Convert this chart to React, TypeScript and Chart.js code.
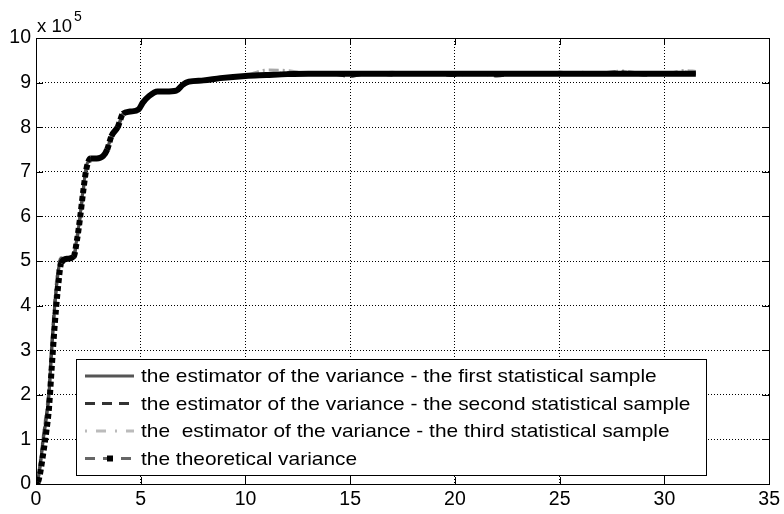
import React, { useEffect, useRef } from 'react';
import { Chart, registerables } from 'chart.js';

Chart.register(...registerables);

// time axis knots (x values)
const timeKnots = [
  0, 0.1, 0.2, 0.35, 0.5, 0.62, 0.75, 0.9, 1.05, 1.2,
  1.5, 1.8, 1.95, 2.1, 2.25, 2.4, 2.6, 2.9, 3.2, 3.4,
  3.6, 3.9, 4.15, 4.5, 4.9, 5.1, 5.4, 5.8, 6.2, 6.7,
  7.0, 7.3, 8.0, 8.8, 10,
  11, 12, 13, 14, 15, 16, 17, 18, 19, 20, 21, 22, 23, 24, 25, 26, 27, 28, 29, 30, 31, 31.5,
];

// values in units of 10^5
const sampleFirst = [
  0, 0.1, 0.4, 1.0, 1.5, 2.0, 3.0, 4.0, 4.7, 5.05,
  5.05, 5.1, 5.5, 6.0, 6.6, 7.1, 7.3, 7.3, 7.35, 7.5,
  7.8, 8.0, 8.3, 8.35, 8.4, 8.55, 8.7, 8.8, 8.8, 8.82,
  8.95, 9.02, 9.05, 9.1, 9.15,
  9.17, 9.2, 9.2, 9.19, 9.2, 9.2, 9.21, 9.2, 9.2, 9.19, 9.2, 9.2, 9.21, 9.2, 9.2, 9.2, 9.2, 9.21, 9.2, 9.2, 9.2, 9.2,
];
const sampleSecond = [
  0, 0.12, 0.45, 1.05, 1.55, 2.05, 3.05, 4.05, 4.75, 5.05,
  5.03, 5.1, 5.45, 5.95, 6.55, 7.05, 7.28, 7.32, 7.35, 7.5,
  7.75, 7.98, 8.28, 8.36, 8.4, 8.55, 8.7, 8.78, 8.82, 8.83,
  8.95, 9.02, 9.06, 9.1, 9.15,
  9.16, 9.22, 9.18, 9.2, 9.14, 9.22, 9.17, 9.21, 9.2, 9.16, 9.22, 9.15, 9.2, 9.18, 9.23, 9.19, 9.22, 9.24, 9.17, 9.2, 9.23, 9.2,
];
const sampleThird = [
  0, 0.15, 0.5, 1.1, 1.65, 2.15, 3.15, 4.15, 4.85, 5.08,
  5.06, 5.12, 5.55, 6.05, 6.65, 7.12, 7.3, 7.31, 7.37, 7.52,
  7.82, 8.02, 8.3, 8.36, 8.42, 8.56, 8.72, 8.8, 8.81, 8.83,
  8.96, 9.03, 9.05, 9.11, 9.16,
  9.28, 9.27, 9.2, 9.22, 9.2, 9.18, 9.23, 9.2, 9.21, 9.2, 9.22, 9.19, 9.2, 9.22, 9.21, 9.23, 9.22, 9.26, 9.2, 9.2, 9.27, 9.25,
];
const theoreticalVariance = [
  0, 0.05, 0.25, 0.7, 1.2, 1.7, 2.6, 3.6, 4.4, 4.95,
  5.05, 5.1, 5.45, 5.95, 6.55, 7.05, 7.3, 7.3, 7.35, 7.5,
  7.8, 8.0, 8.3, 8.35, 8.4, 8.55, 8.7, 8.8, 8.8, 8.82,
  8.95, 9.02, 9.05, 9.1, 9.15,
  9.17, 9.19, 9.2, 9.2, 9.2, 9.2, 9.2, 9.2, 9.2, 9.2, 9.2, 9.2, 9.2, 9.2, 9.2, 9.2, 9.2, 9.2, 9.2, 9.2, 9.2, 9.2,
];

const seriesLabels = [
  'the estimator of the variance - the first statistical sample',
  'the estimator of the variance - the second statistical sample',
  'the  estimator of the variance - the third statistical sample',
  'the theoretical variance',
];

const xTickValues = [0, 5, 10, 15, 20, 25, 30, 35];
const yTickValues = [0, 1, 2, 3, 4, 5, 6, 7, 8, 9, 10];
const yExponentLabel = 'x 10';
const yExponent = '5';

const FONT = '"Liberation Sans", Arial, Helvetica, sans-serif';

const toPoints = (ys: number[]) => timeKnots.map((x, i) => ({ x, y: ys[i] }));

const legendStyles = [
  { color: '#555555', width: 3, dash: [] as number[], marker: false },
  { color: '#333333', width: 3, dash: [10, 7], marker: false },
  { color: '#bbbbbb', width: 3, dash: [2, 9, 10, 9], marker: false },
  { color: '#666666', width: 3, dash: [10, 8], marker: true },
];

const matlabPlugin = {
  id: 'matlabDecor',
  afterDatasetsDraw(chart: any) {
    const { ctx, chartArea: a } = chart;
    ctx.save();
    const left = a.left + 40;
    const right = a.left + 670;
    const bottom = a.bottom - 9;
    const top = bottom - 116;
    ctx.fillStyle = '#ffffff';
    ctx.fillRect(left, top, right - left, bottom - top);
    ctx.strokeStyle = '#000000';
    ctx.lineWidth = 1;
    ctx.setLineDash([]);
    ctx.strokeRect(left + 0.5, top + 0.5, right - left, bottom - top);
    seriesLabels.forEach((label, i) => {
      const y = top + 17 + i * 27.5;
      const st = legendStyles[i];
      ctx.strokeStyle = st.color;
      ctx.lineWidth = st.width;
      ctx.setLineDash(st.dash);
      ctx.beginPath();
      ctx.moveTo(left + 9, y);
      ctx.lineTo(left + 58, y);
      ctx.stroke();
      ctx.setLineDash([]);
      if (st.marker) {
        ctx.fillStyle = '#000000';
        ctx.fillRect(left + 34 - 3, y - 3, 6, 6);
      }
      ctx.save();
      ctx.translate(left + 65, y + 1);
      ctx.scale(1.1, 1);
      ctx.font = `19px ${FONT}`;
      ctx.textBaseline = 'middle';
      ctx.textAlign = 'left';
      ctx.fillStyle = '#000000';
      ctx.fillText(label, 0, 0);
      ctx.restore();
    });
    ctx.restore();
  },
  afterDraw(chart: any) {
    const { ctx, chartArea: a, scales } = chart;
    ctx.save();
    ctx.strokeStyle = '#000000';
    ctx.lineWidth = 1;
    ctx.setLineDash([]);
    ctx.strokeRect(Math.round(a.left) + 0.5, Math.round(a.top) + 0.5, Math.round(a.right - a.left), Math.round(a.bottom - a.top));
    const tl = 7;
    ctx.beginPath();
    xTickValues.forEach((v) => {
      const px = Math.round(scales.x.getPixelForValue(v)) + 0.5;
      ctx.moveTo(px, a.bottom);
      ctx.lineTo(px, a.bottom - tl);
      ctx.moveTo(px, a.top);
      ctx.lineTo(px, a.top + tl);
    });
    yTickValues.forEach((v) => {
      const py = Math.round(scales.y.getPixelForValue(v)) + 0.5;
      ctx.moveTo(a.left, py);
      ctx.lineTo(a.left + tl, py);
      ctx.moveTo(a.right, py);
      ctx.lineTo(a.right - tl, py);
    });
    ctx.stroke();
    ctx.fillStyle = '#000000';
    ctx.textBaseline = 'alphabetic';
    ctx.textAlign = 'left';
    ctx.font = `18.5px ${FONT}`;
    ctx.fillText(yExponentLabel, a.left + 1, a.top - 6);
    const w = ctx.measureText(yExponentLabel).width;
    ctx.font = `14px ${FONT}`;
    ctx.fillText(yExponent, a.left + 3 + w, a.top - 17);
    ctx.restore();
  },
};

export default function App() {
  const canvasRef = useRef<HTMLCanvasElement | null>(null);

  useEffect(() => {
    if (!canvasRef.current) return;
    const steepDash = (ctx: any) => {
      const dx = Math.abs(ctx.p1.x - ctx.p0.x);
      const dy = Math.abs(ctx.p1.y - ctx.p0.y);
      return dy > 2 * dx ? [5, 3] : [];
    };
    const chart = new Chart(canvasRef.current, {
      type: 'line',
      data: {
        datasets: [
          {
            label: seriesLabels[0],
            data: toPoints(sampleFirst),
            borderColor: '#4a4a4a',
            borderWidth: 3,
            pointRadius: 0,
            cubicInterpolationMode: 'monotone',
            order: 1,
          },
          {
            label: seriesLabels[1],
            data: toPoints(sampleSecond),
            borderColor: '#2e2e2e',
            borderWidth: 3,
            borderDash: [10, 6],
            pointRadius: 0,
            cubicInterpolationMode: 'monotone',
            order: 2,
          },
          {
            label: seriesLabels[2],
            data: toPoints(sampleThird),
            borderColor: '#a8a8a8',
            borderWidth: 3,
            borderDash: [10, 4, 2, 4],
            pointRadius: 0,
            cubicInterpolationMode: 'monotone',
            order: 3,
          },
          {
            label: seriesLabels[3],
            data: toPoints(theoreticalVariance),
            borderColor: '#000000',
            borderWidth: 6,
            pointRadius: 0,
            cubicInterpolationMode: 'monotone',
            segment: { borderDash: steepDash },
            order: 0,
          },
        ],
      },
      options: {
        animation: false,
        responsive: false,
        layout: { padding: { left: 0, top: 38, right: 14, bottom: 0 } },
        plugins: {
          legend: { display: false },
          tooltip: { enabled: false },
        },
        scales: {
          x: {
            type: 'linear',
            min: 0,
            max: 35,
            afterBuildTicks: (scale: any) => {
              scale.ticks = xTickValues.map((v) => ({ value: v }));
            },
            afterFit: (scale: any) => {
              scale.height = 30;
            },
            ticks: {
              color: '#000000',
              font: { family: FONT, size: 19.5 },
              padding: 4,
              maxRotation: 0,
            },
            grid: { color: '#000000', lineWidth: 1, drawTicks: false },
            border: { display: false, dash: [1, 2] },
          },
          y: {
            type: 'linear',
            min: 0,
            max: 10,
            afterBuildTicks: (scale: any) => {
              scale.ticks = yTickValues.map((v) => ({ value: v }));
            },
            afterFit: (scale: any) => {
              scale.width = 36;
            },
            ticks: {
              color: '#000000',
              font: { family: FONT, size: 19.5 },
              padding: 5,
            },
            grid: { color: '#000000', lineWidth: 1, drawTicks: false },
            border: { display: false, dash: [1, 2] },
          },
        },
      },
      plugins: [matlabPlugin],
    } as any);
    return () => chart.destroy();
  }, []);

  return (
    <div style={{ position: 'absolute', left: 0, top: 0, width: 784, height: 514, background: '#fff' }}>
      <canvas ref={canvasRef} width={784} height={514} style={{ width: 784, height: 514, display: 'block' }} />
    </div>
  );
}
